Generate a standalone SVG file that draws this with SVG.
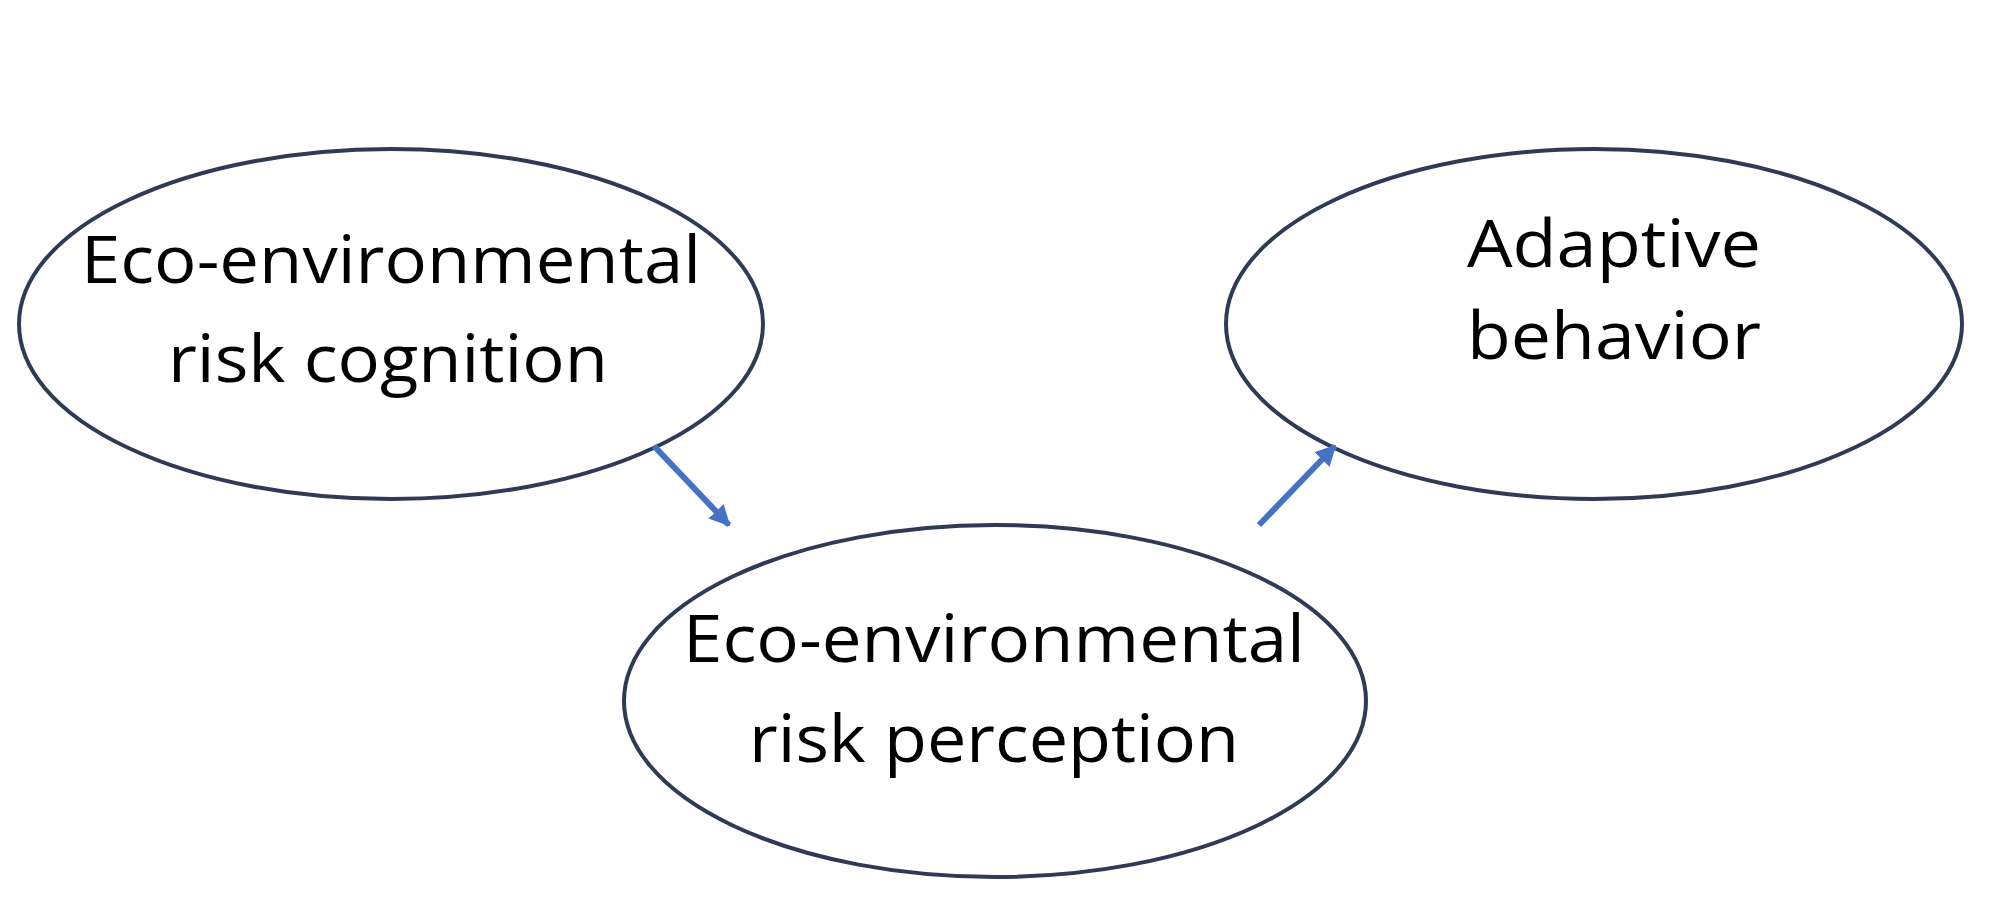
<svg xmlns="http://www.w3.org/2000/svg" width="1997" height="906" viewBox="0 0 1997 906">
<style>
.n{fill:#fff;stroke:#2E3A56;stroke-width:4}
.t{font-family:"Open Sans","Liberation Sans",sans-serif;font-size:66px;fill:#000;text-anchor:middle}
.c{stroke:#4472C4;stroke-width:6;fill:none}
</style>
<defs><marker id="a" viewBox="0 0 10 10" refX="9" refY="5" markerWidth="3.5" markerHeight="3.5" orient="auto"><path d="M0,0L10,5L0,10z" fill="#4472C4"/></marker></defs>
<rect width="1997" height="906" fill="#fff"/>
<g id="n1"><ellipse class="n" cx="391" cy="324" rx="372" ry="175"/>
<text class="t" x="391" y="283" textLength="620" lengthAdjust="spacingAndGlyphs">Eco-environmental</text>
<text class="t" x="388" y="382" textLength="440" lengthAdjust="spacingAndGlyphs">risk cognition</text></g>
<g id="n2"><ellipse class="n" cx="995" cy="701" rx="371" ry="176"/>
<text class="t" x="994" y="662" textLength="622" lengthAdjust="spacingAndGlyphs">Eco-environmental</text>
<text class="t" x="994" y="762" textLength="490" lengthAdjust="spacingAndGlyphs">risk perception</text></g>
<g id="n3"><ellipse class="n" cx="1594" cy="324" rx="368" ry="175"/>
<text class="t" x="1614" y="267" textLength="294" lengthAdjust="spacingAndGlyphs">Adaptive</text>
<text class="t" x="1614" y="359" textLength="294" lengthAdjust="spacingAndGlyphs">behavior</text></g>
<g id="connectors">
<line class="c" x1="654" y1="446" x2="729" y2="525" marker-end="url(#a)"/>
<line class="c" x1="1259" y1="525" x2="1335" y2="446" marker-end="url(#a)"/>
</g>
</svg>
